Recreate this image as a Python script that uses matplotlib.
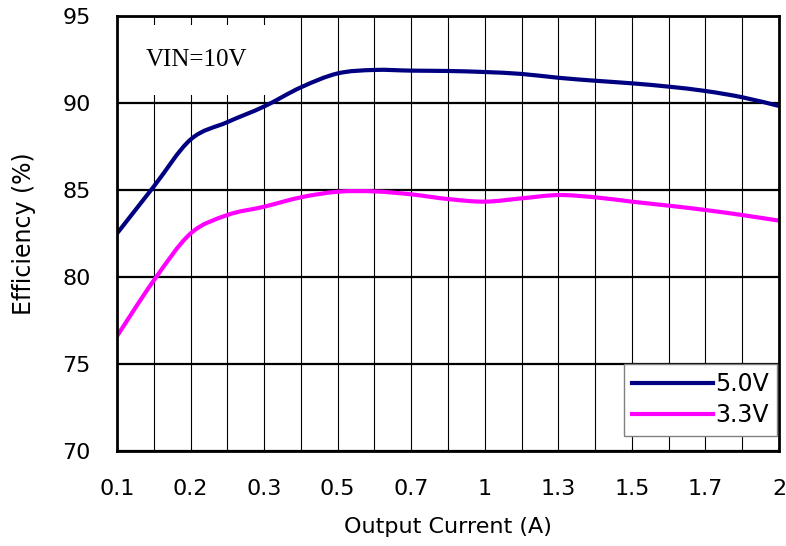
import numpy as np
import matplotlib.pyplot as plt
from matplotlib.patches import Rectangle, PathPatch
from matplotlib.path import Path
from matplotlib.lines import Line2D

# categories on the x axis (every other one is labelled)
currents = ["0.1", "0.15", "0.2", "0.25", "0.3", "0.4", "0.5", "0.6", "0.7", "0.85",
            "1", "1.15", "1.3", "1.4", "1.5", "1.6", "1.7", "1.85", "2"]
eff_5v0 = [82.5, 85.2, 87.9, 88.9, 89.8, 90.9, 91.7, 91.9, 91.86, 91.84,
           91.78, 91.67, 91.45, 91.28, 91.13, 90.94, 90.69, 90.33, 89.83]
eff_3v3 = [76.6, 79.8, 82.5, 83.56, 84.04, 84.58, 84.9, 84.92, 84.75, 84.48,
           84.33, 84.52, 84.71, 84.58, 84.33, 84.1, 83.85, 83.56, 83.24]
yticks = [70, 75, 80, 85, 90, 95]


def smooth_path(x, y):
    # spreadsheet style smoothed line: cubic bezier through every point
    x = np.asarray(x, float)
    y = np.asarray(y, float)
    pts = np.column_stack((x, y))
    verts = [pts[0]]
    codes = [Path.MOVETO]
    n = len(pts)
    for i in range(n - 1):
        p0 = pts[max(i - 1, 0)]
        p1 = pts[i]
        p2 = pts[i + 1]
        p3 = pts[min(i + 2, n - 1)]
        c1 = p1 + (p2 - p0) / 6.0
        c2 = p2 - (p3 - p1) / 6.0
        verts += [c1, c2, p2]
        codes += [Path.CURVE4] * 3
    return Path(verts, codes)


plt.rcParams['font.family'] = ['DejaVu Sans']

fig = plt.figure(figsize=(7.86, 5.46), dpi=100)
ax = fig.add_axes([117/786, 1-451/546, 662/786, 435/546])

xx = np.arange(len(currents))
for yv, col in [(eff_5v0, '#000080'), (eff_3v3, '#FF00FF')]:
    ax.add_patch(PathPatch(smooth_path(xx, yv), facecolor='none', edgecolor=col,
                           lw=3, zorder=4, capstyle='butt'))

ax.set_xlim(0, len(currents)-1)
ax.set_ylim(70, 95)
ax.set_yticks(yticks)
ax.set_xticks(xx[::2])
ax.set_xticklabels(currents[::2])
ax.set_xticks(xx, minor=True)

# grid: thin vertical at every category, heavier horizontal at major y ticks
ax.grid(True, which='minor', axis='x', color='black', lw=0.8, zorder=1)
ax.grid(True, which='major', axis='x', color='black', lw=0.8, zorder=1)
ax.grid(True, which='major', axis='y', color='black', lw=1.6, zorder=1)
ax.set_axisbelow(True)

ax.tick_params(which='both', length=0)
ax.tick_params(axis='x', pad=20, labelsize=16)
ax.tick_params(axis='y', pad=19, labelsize=16)
for s in ax.spines.values():
    s.set_linewidth(2)
    s.set_zorder(5)

ax.set_xlabel('Output Current (A)', fontsize=16, labelpad=13)
ax.set_ylabel('Efficiency (%)', fontsize=17, labelpad=19)

# white box behind the VIN note
ax.add_patch(Rectangle((1/662, (451-95)/435), (266-118)/662, 70/435,
                       transform=ax.transAxes, facecolor='white', edgecolor='none', zorder=2))
ax.text((196-117)/662, (451-60)/435, 'VIN=10V', transform=ax.transAxes,
        family='Liberation Serif', fontsize=18, ha='center', va='center', zorder=3)

handles = [Line2D([], [], color='#000080', lw=3), Line2D([], [], color='#FF00FF', lw=3)]
leg = ax.legend(handles, ['5.0V', '3.3V'], loc='upper right',
                bbox_to_anchor=((777-117)/662, (451-364)/435),
                fontsize=17, frameon=True, fancybox=False, framealpha=1,
                edgecolor='#808080', handlelength=3.4, handletextpad=0.1,
                borderpad=0.35, labelspacing=0.3, borderaxespad=0)
leg.get_frame().set_linewidth(1)
leg.set_zorder(6)

fig.savefig('out.png', dpi=100)
